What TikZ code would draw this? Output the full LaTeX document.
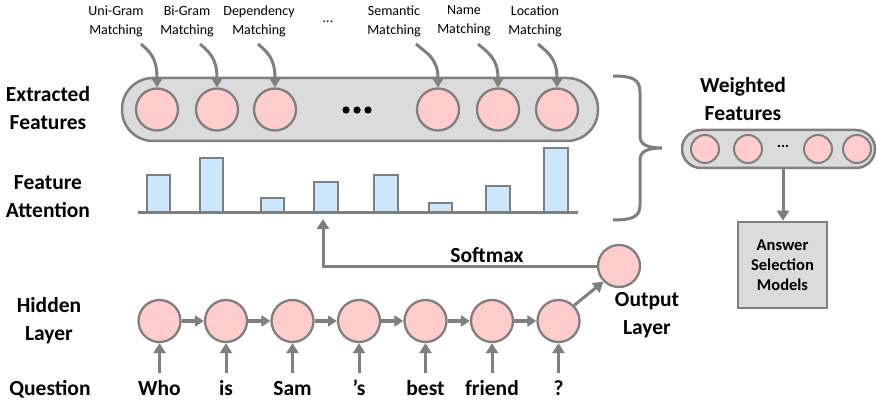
\documentclass[tikz,border=0pt]{standalone}
\usepackage{fontspec}
\setmainfont{Carlito}
\usetikzlibrary{arrows.meta}
\definecolor{gr}{HTML}{7F7F7F}
\definecolor{pk}{HTML}{FFCCCC}
\definecolor{lg}{HTML}{DBDBDB}
\definecolor{lb}{HTML}{CCE8FF}
\begin{document}
\begin{tikzpicture}[x=1pt,y=-1pt,
 neuron/.style={circle,draw=gr,fill=pk,line width=2.3pt,minimum size=42pt,inner sep=0},
 sneuron/.style={circle,draw=gr,fill=pk,line width=2pt,minimum size=28pt,inner sep=0},
 pillbox/.style={draw=gr,fill=lg,line width=2.5pt,inner sep=0},
 lab/.style={font=\fontsize{21.5}{28}\selectfont\bfseries,align=center,inner sep=1pt},
 small/.style={font=\fontsize{14}{19}\selectfont,align=center,inner sep=1pt},
 arr/.style={draw=gr,line width=3pt,-{Triangle[length=10pt,width=12pt]}},
 harr/.style={draw=gr,line width=3.5pt,-{Triangle[length=9pt,width=11pt]}},
 barbox/.style={draw=gr,fill=lb,line width=2pt}]
\useasboundingbox (0,0) rectangle (877,403);

% ---- extracted features pill
\node[pillbox,rounded corners=31pt,minimum width=476pt,minimum height=63pt] (ef) at (360,109.5) {};
\foreach \i/\x in {1/157,2/217,3/275,4/438,5/498,6/557}
  \node[neuron] (e\i) at (\x,109.5) {};
\foreach \x in {346,357,368} \fill (\x,110) circle (3.6pt);

% ---- top labels
\node[small] (u1) at (116,21) {Uni-Gram\\Matching};
\node[small] (u2) at (187,21) {Bi-Gram\\Matching};
\node[small] (u3) at (259,21) {Dependency\\Matching};
\node[small] (udots) at (328,22) {...};
\node[small] (u4) at (394,21) {Semantic\\Matching};
\node[small] (u5) at (464,21) {Name\\Matching};
\node[small] (u6) at (535,21) {Location\\Matching};
\foreach \i/\sx/\ex in {1/141/157,2/200/217,3/258/275,4/416/438,5/478/498,6/538/557}
  \draw[arr] (\sx,44) .. controls (\sx+9,52) and (\ex,58) .. (e\i.north);

% ---- left labels
\node[lab] (lef) at (48,108) {Extracted\\Features};
\node[lab] (lfa) at (48,197) {Feature\\Attention};
\node[lab] (lhl) at (49,321) {Hidden\\Layer};
\node[lab,anchor=base] (lq) at (50,395) {Question};

% ---- bars
\draw[barbox] (147,212) rectangle (170,175);
\draw[barbox] (200,212) rectangle (223,158);
\draw[barbox] (261,212) rectangle (284,198);
\draw[barbox] (314,212) rectangle (338,182);
\draw[barbox] (374,212) rectangle (398,175);
\draw[barbox] (429,212) rectangle (452,203);
\draw[barbox] (486,212) rectangle (510,186);
\draw[barbox] (544,212) rectangle (568,148);
\draw[gr,line width=2.5pt] (138,212.5) coordinate (bl) -- (578,212.5) coordinate (br);

% ---- brace
\draw[gr,line width=3pt] (613,76) .. controls (632,76) and (640,79) .. (640,92) -- (640,136)
  .. controls (640,145) and (648,148) .. (662,148)
  .. controls (648,148) and (640,151) .. (640,160) -- (640,205)
  .. controls (640,217) and (632,220) .. (613,220);

% ---- weighted features
\node[lab] (lwf) at (743,99) {Weighted\\Features};
\node[pillbox,rounded corners=19pt,minimum width=193pt,minimum height=38pt] (wf) at (778.5,149) {};
\foreach \i/\x in {1/705,2/748,3/818,4/857}
  \node[sneuron] (w\i) at (\x,149) {};
\node[font=\fontsize{15}{15}\selectfont\bfseries] (wdots) at (783,146) {...};
\node[pillbox,minimum width=89pt,minimum height=86pt,
  font=\fontsize{16.5}{20}\selectfont\bfseries,align=center] (ans) at (782.5,265) {Answer\\Selection\\Models};
\draw[arr] (wf.south -| wdots) -- (ans.north -| wdots);

% ---- hidden layer
\foreach \i/\x/\w in {1/159.5/Who,2/226/is,3/292.5/Sam,4/359/{’s},5/425.5/best,6/492/friend,7/558.5/?}{
  \node[neuron,minimum size=42pt] (h\i) at (\x,321) {};
  \node[lab,anchor=base] (q\i) at (\x,395) {\w};
  \draw[arr] (\x,373) -- (h\i.south);
}
\foreach \a/\b in {1/2,2/3,3/4,4/5,5/6,6/7}
  \draw[harr] (h\a.east) -- (h\b.west);

% ---- output
\node[neuron,minimum size=42pt] (out) at (619,266) {};
\node[lab] (lout) at (647,315) {Output\\Layer};
\draw[arr] (h7.north east) -- (out.south west);
\draw[arr] (out.west) -- (323,266) -- (323,219);
\node[lab] (smx) at (487,255) {Softmax};
\end{tikzpicture}
\end{document}
